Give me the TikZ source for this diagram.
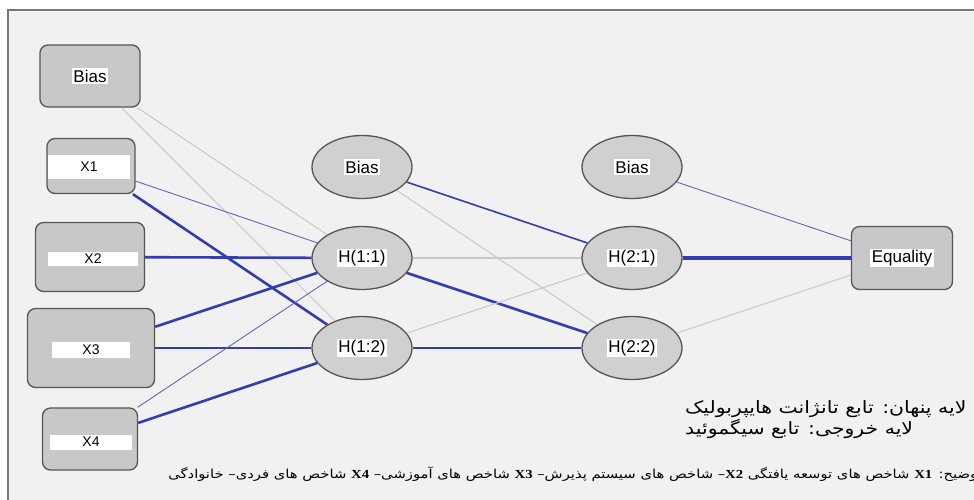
\documentclass[tikz,border=0pt]{standalone}
\usepackage{fontspec}
\setmainfont{Liberation Sans}
\newfontfamily\farsi[Script=Arabic, FakeStretch=1.2]{DejaVu Sans}
\newfontfamily\capserif[FakeStretch=1.2]{Liberation Serif}
\TeXXeTstate=1
\usetikzlibrary{shapes.geometric}

\definecolor{panelgray}{RGB}{241,241,241}
\definecolor{framegray}{RGB}{120,120,120}
\definecolor{boxgray}{RGB}{200,200,200}
\definecolor{ovalgray}{RGB}{208,208,208}
\definecolor{rimgray}{RGB}{85,85,85}
\definecolor{netblue}{RGB}{52,60,176}
\definecolor{paleblue}{RGB}{100,100,190}
\definecolor{weakgray}{RGB}{200,200,200}

\begin{document}
\begin{tikzpicture}[x=1pt, y=-1pt]
    % --- Style Definitions ---
    \tikzset{
        unit box/.style={
            draw=rimgray,
            line width=1.3pt,
            fill=boxgray,
            rounded corners=8pt,
            inner sep=0pt
        },
        unit oval/.style={
            ellipse,
            draw=rimgray,
            line width=1.3pt,
            fill=ovalgray,
            minimum width=100pt,
            minimum height=63pt,
            inner sep=0pt
        },
        tag/.style={fill=white, inner sep=1.5pt, font=\fontsize{17}{19}\selectfont},
        band/.style={fill=white, inner sep=0pt, font=\fontsize{14}{16}\selectfont},
        weak link/.style={draw=weakgray, line width=1pt},
        thin link/.style={draw=paleblue, line width=0.9pt},
        mid link/.style={draw=netblue, line width=1.6pt},
        strong link/.style={draw=netblue, line width=2.6pt},
        heavy link/.style={draw=netblue, line width=4pt},
        legend text/.style={font=\farsi\fontsize{17}{19}\selectfont, inner sep=0pt},
        note text/.style={font=\farsi\fontsize{12.3}{14}\selectfont, inner sep=0pt}
    }

    \useasboundingbox (0,0) rectangle (974,499);

    % ==========================================
    % PANEL
    % ==========================================
    \fill[white] (0,0) rectangle (974,499);
    \fill[panelgray] (8,10) rectangle (990,515);
    \draw[framegray, line width=1.6pt] (990,10) -- (8,10) -- (8,515);

    % ==========================================
    % INPUT LAYER
    % ==========================================
    \node[unit box, minimum width=100pt, minimum height=62pt] (bin) at (90,76) {};
    \node[unit box, minimum width=88pt, minimum height=55pt] (x1) at (91,166) {};
    \node[unit box, minimum width=109pt, minimum height=69pt] (x2) at (90,257) {};
    \node[unit box, minimum width=127pt, minimum height=79pt] (x3) at (91,348) {};
    \node[unit box, minimum width=95pt, minimum height=62pt] (x4) at (90,439) {};

    \node[tag] (bin_t) at (bin) {Bias};
    \node[band, minimum width=82pt, minimum height=24pt] (x1_t) at (89,167) {X1};
    \node[band, minimum width=90pt, minimum height=14pt] (x2_t) at (93,259) {X2};
    \node[band, minimum width=78pt, minimum height=16pt] (x3_t) at (91,350) {X3};
    \node[band, minimum width=82pt, minimum height=15pt] (x4_t) at (91,442) {X4};

    % ==========================================
    % HIDDEN LAYER
    % ==========================================
    \node[unit oval] (b1) at (362,167) {};
    \node[unit oval] (h11) at (362,258) {};
    \node[unit oval] (h12) at (362,348) {};
    \node[unit oval] (b2) at (632,167) {};
    \node[unit oval] (h21) at (632,258) {};
    \node[unit oval] (h22) at (632,348) {};

    \node[tag] (b1_t) at (b1) {Bias};
    \node[tag] (h11_t) at (h11) {H(1:1)};
    \node[tag] (h12_t) at (h12) {H(1:2)};
    \node[tag] (b2_t) at (b2) {Bias};
    \node[tag] (h21_t) at (h21) {H(2:1)};
    \node[tag] (h22_t) at (h22) {H(2:2)};

    % ==========================================
    % OUTPUT LAYER
    % ==========================================
    \node[unit box, minimum width=101pt, minimum height=63pt] (out) at (902,258) {};
    \node[tag] (out_t) at (out) {Equality};

    % ==========================================
    % SYNAPTIC WEIGHTS
    % ==========================================
    \draw[weak link] (bin) -- (h11);
    \draw[weak link] (bin) -- (h12);
    \draw[thin link] (x1) -- (h11);
    \draw[strong link] (x1) -- (h12);
    \draw[strong link] (x2) -- (h11);
    \draw[strong link] (x3) -- (h11);
    \draw[strong link] (x3) -- (h12);
    \draw[thin link] (x4) -- (h11);
    \draw[strong link] (x4) -- (h12);

    \draw[mid link] (b1) -- (h21);
    \draw[weak link] (b1) -- (h22);
    \draw[weak link, line width=2pt] (h11) -- (h21);
    \draw[strong link] (h11) -- (h22);
    \draw[weak link] (h12) -- (h21);
    \draw[mid link] (h12) -- (h22);

    \draw[thin link] (b2) -- (out);
    \draw[heavy link] (h21) -- (out);
    \draw[weak link] (h22) -- (out);

    % ==========================================
    % LEGEND
    % ==========================================
    \node[legend text, anchor=west] (lgd_hidden) at (685,409) {\beginR لایه پنهان: تابع تانژانت هایپربولیک\endR};
    \node[legend text, anchor=west] (lgd_output) at (685,429) {\beginR لایه خروجی: تابع سیگموئید\endR};

    \node[note text, anchor=east] (note) at (982,474) {\beginR توضیح: \beginL{\capserif\bfseries X1}\endL{} شاخص های توسعه یافتگی \beginL{\capserif\bfseries X2}\endL{}– شاخص های سیستم پذیرش– \beginL{\capserif\bfseries X3}\endL{} شاخص های آموزشی– \beginL{\capserif\bfseries X4}\endL{} شاخص های فردی– خانوادگی\endR};

\end{tikzpicture}
\end{document}
